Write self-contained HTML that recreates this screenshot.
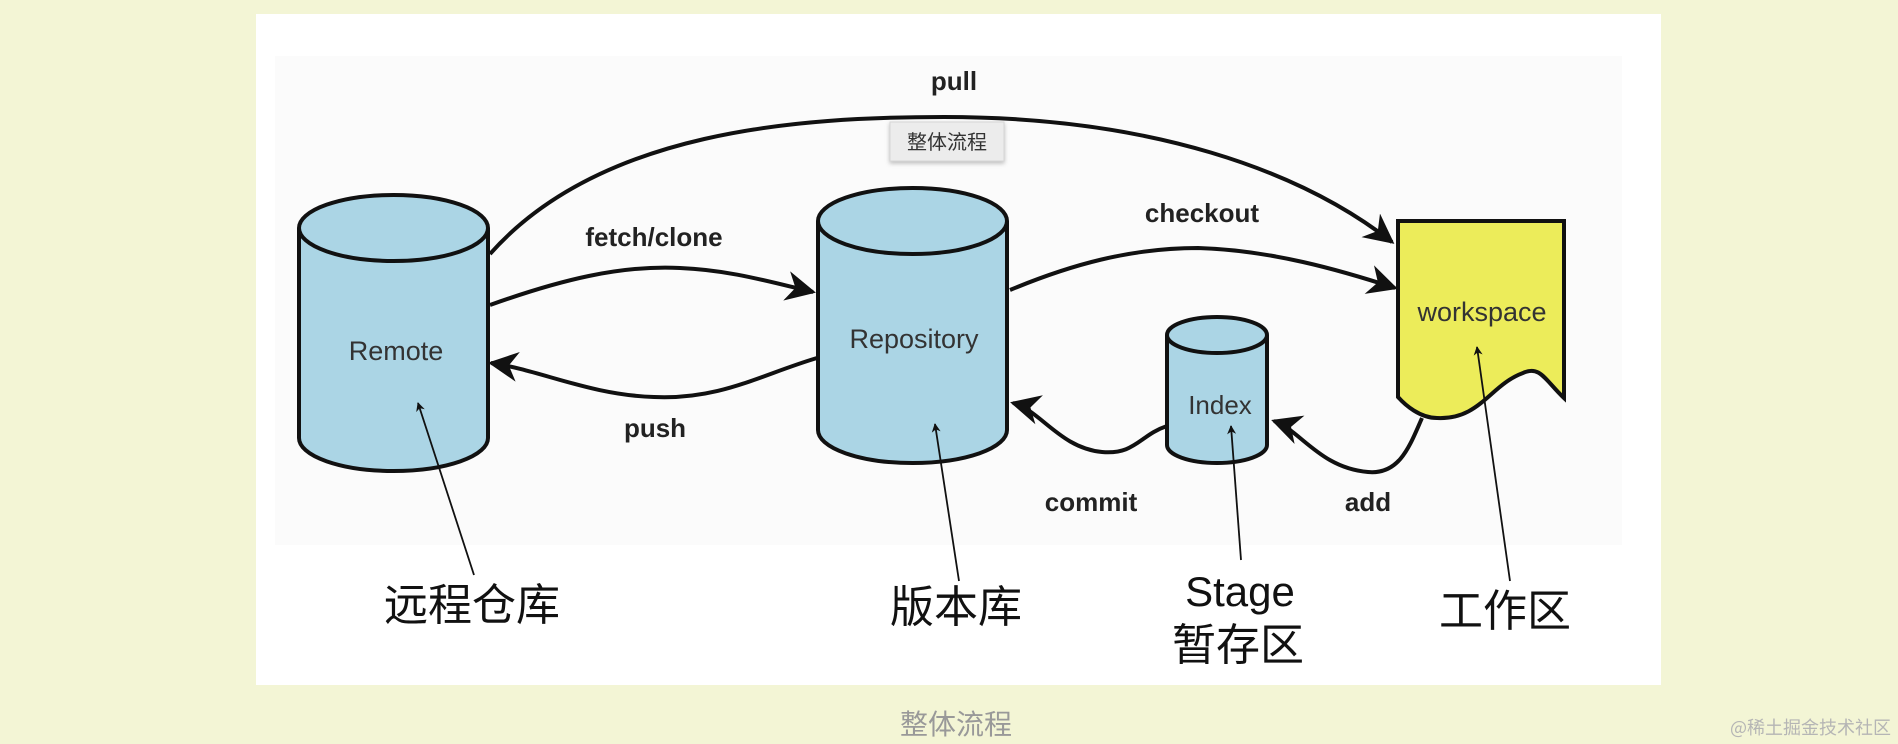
<!DOCTYPE html>
<html><head><meta charset="utf-8"><style>
html,body{margin:0;padding:0;background:#f3f5d5;width:1898px;height:744px;overflow:hidden}
svg{display:block}
</style></head><body>
<svg width="1898" height="744" viewBox="0 0 1898 744" xmlns="http://www.w3.org/2000/svg" font-family="Liberation Sans, Noto Sans CJK SC, sans-serif">
<defs>
<marker id="ah" viewBox="0 0 10 10" refX="9" refY="5" markerWidth="9" markerHeight="9" markerUnits="userSpaceOnUse" orient="auto"><path d="M0,0 L10,5 L0,10 L3,5 z" fill="#111"/></marker>
<marker id="big" viewBox="0 0 10 10" refX="9" refY="5" markerWidth="30" markerHeight="30" markerUnits="userSpaceOnUse" orient="auto"><path d="M0,0 L10,5 L0,10 L3,5 z" fill="#111"/></marker>
<filter id="sh" x="-20%" y="-30%" width="140%" height="170%"><feDropShadow dx="0" dy="2" stdDeviation="2" flood-color="#000" flood-opacity="0.25"/></filter>
</defs>
<rect x="0" y="0" width="1898" height="744" fill="#f3f5d5"/>
<rect x="256" y="14" width="1405" height="671" fill="#ffffff"/>
<rect x="275" y="56" width="1347" height="489" fill="#fbfbfb"/>

<!-- Remote -->
<path d="M299,228 L299,438 A94.5,33 0 0 0 488,438 L488,228" fill="#abd5e5" stroke="#111" stroke-width="4"/>
<ellipse cx="393.5" cy="228" rx="94.5" ry="33" fill="#abd5e5" stroke="#111" stroke-width="4"/>
<text x="396" y="360" font-size="27" text-anchor="middle" fill="#333">Remote</text>

<!-- Repository -->
<path d="M818,221 L818,430 A94.5,33 0 0 0 1007,430 L1007,221" fill="#abd5e5" stroke="#111" stroke-width="4"/>
<ellipse cx="912.5" cy="221" rx="94.5" ry="33" fill="#abd5e5" stroke="#111" stroke-width="4"/>
<text x="914" y="348" font-size="27" text-anchor="middle" fill="#333">Repository</text>

<!-- Index -->
<path d="M1167,335 L1167,445 A50,18 0 0 0 1267,445 L1267,335" fill="#abd5e5" stroke="#111" stroke-width="4"/>
<ellipse cx="1217" cy="335" rx="50" ry="18" fill="#abd5e5" stroke="#111" stroke-width="4"/>
<text x="1220" y="414" font-size="26" text-anchor="middle" fill="#333">Index</text>

<!-- workspace -->
<path d="M1398,221 L1564,221 L1564,398 C1545,380 1540,365 1523,373 C1490,385 1480,420 1437,418 C1420,418 1405,405 1398,397 Z" fill="#ecec5a" stroke="#111" stroke-width="4"/>
<text x="1482" y="321" font-size="27" text-anchor="middle" fill="#333">workspace</text>

<!-- connectors -->
<g fill="none" stroke="#111" stroke-width="4">
<path d="M490,254 C600,130 800,117 944,117 C1150,117 1300,170 1392,242" marker-end="url(#big)"/>
<path d="M490,305 C560,280 620,265 680,268 C730,270 770,282 813,292" marker-end="url(#big)"/>
<path d="M817,358 C760,375 720,400 654,397 C590,395 540,370 491,363" marker-end="url(#big)"/>
<path d="M1010,290 C1070,265 1130,248 1198,248 C1270,250 1340,270 1395,288" marker-end="url(#big)"/>
<path d="M1167,426 C1140,435 1135,455 1102,452 C1060,448 1040,410 1013,403" marker-end="url(#big)"/>
<path d="M1422,418 C1410,445 1400,475 1368,472 C1320,468 1300,430 1274,421" marker-end="url(#big)"/>
</g>
<g font-size="26" font-weight="bold" fill="#222" text-anchor="middle">
<text x="954" y="90">pull</text>
<text x="654" y="246">fetch/clone</text>
<text x="655" y="437">push</text>
<text x="1202" y="222">checkout</text>
<text x="1091" y="511">commit</text>
<text x="1368" y="511">add</text>
</g>

<!-- thin pointer arrows -->
<g stroke="#111" stroke-width="1.8" fill="none">
<line x1="474" y1="575" x2="418" y2="403" marker-end="url(#ah)"/>
<line x1="959" y1="581" x2="935" y2="424" marker-end="url(#ah)"/>
<line x1="1241" y1="560" x2="1231" y2="426" marker-end="url(#ah)"/>
<line x1="1510" y1="581" x2="1477" y2="347" marker-end="url(#ah)"/>
</g>
<g font-size="44" fill="#111" text-anchor="middle" font-family="Noto Sans CJK SC, sans-serif">
<text x="472" y="620">远程仓库</text>
<text x="956" y="622">版本库</text>
<text x="1240" y="606" font-family="Liberation Sans, sans-serif" font-size="42">Stage</text>
<text x="1238" y="660">暂存区</text>
<text x="1505" y="626">工作区</text>
</g>

<!-- tooltip -->
<rect x="890" y="122" width="114" height="39" fill="#ececec" stroke="#d6d6d6" stroke-width="1" filter="url(#sh)"/>
<text x="947" y="149" font-size="20" text-anchor="middle" fill="#333" font-family="Noto Sans CJK SC, sans-serif">整体流程</text>

<text x="956" y="734" font-size="28" text-anchor="middle" fill="#999" font-family="Noto Sans CJK SC, sans-serif">整体流程</text>
<text x="1891" y="734" font-size="18" text-anchor="end" fill="#b5b5b5" font-family="Noto Sans CJK SC, sans-serif">@稀土掘金技术社区</text>
</svg>
</body></html>
